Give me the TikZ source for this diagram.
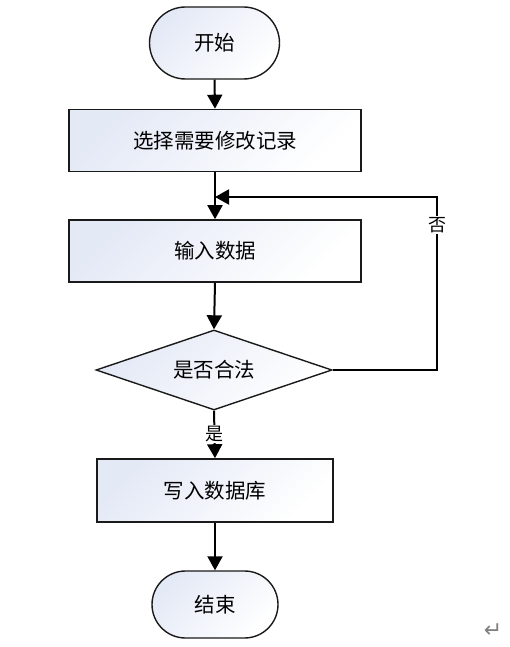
\documentclass[tikz,border=0pt]{standalone}
\usepackage{fontspec}
\newfontfamily\cjk{Noto Sans CJK SC}
\newfontfamily\dejavu{DejaVu Sans}
\usetikzlibrary{arrows.meta,shapes.geometric,shapes.misc}
\definecolor{shadeblue}{HTML}{E4E9F6}
\definecolor{edgecol}{HTML}{1A1A1A}
\tikzset{
  x=1pt,y=-1pt,
  fillgrad/.style={top color=shadeblue,bottom color=white,shading angle=45},
  txt/.style={font=\cjk\fontsize{20.5}{24}\selectfont},
  proc/.style={draw=edgecol,line width=1.6pt,fillgrad,minimum height=62pt,inner sep=0pt,txt},
  term/.style={draw=edgecol,line width=1.4pt,fillgrad,rounded rectangle,minimum height=72pt,inner sep=0pt,txt},
  decide/.style={draw=edgecol,line width=1.4pt,fillgrad,diamond,aspect=2.95,minimum width=236pt,minimum height=80pt,inner sep=0pt,txt},
  flow/.style={draw=black,line width=2pt,-{Triangle[length=14pt,width=15pt]}},
  lbl/.style={fill=white,inner sep=1pt,font=\cjk\fontsize{18}{21}\selectfont}
}
\begin{document}
\begin{tikzpicture}
\useasboundingbox (0,0) rectangle (510,647);
\node[term,minimum width=130pt] (start) at (214.5,43) {开始};
\node[proc,minimum width=292pt] (sel) at (215,140.5) {选择需要修改记录};
\node[proc,minimum width=292pt] (inp) at (215,251) {输入数据};
\node[decide] (chk) at (214,370) {是否合法};
\node[proc,minimum width=236pt,minimum height=63pt] (wr) at (215,490.5) {写入数据库};
\node[term,minimum width=126pt,minimum height=67pt] (end) at (215,604.5) {结束};
\coordinate (merge) at (215,197);
\coordinate (rc) at (437,370);
\coordinate (rt) at (437,197);
\draw[flow] (start.south) -- (sel.north);
\draw[flow] (sel.south) -- (inp.north);
\draw[flow] (inp.south) -- (chk.north);
\draw[flow] (chk.east) -- (rc) -- (rt) -- (merge);
\draw[flow] (chk.south) -- (wr.north);
\draw[flow] (wr.south) -- (end.north);
\node[lbl] (no) at (437,225) {否};
\node[lbl] (yes) at (214,434) {是};
\node[text=gray,font=\dejavu\fontsize{22}{24}\selectfont] (para) at (493,631) {↵};
\end{tikzpicture}
\end{document}
